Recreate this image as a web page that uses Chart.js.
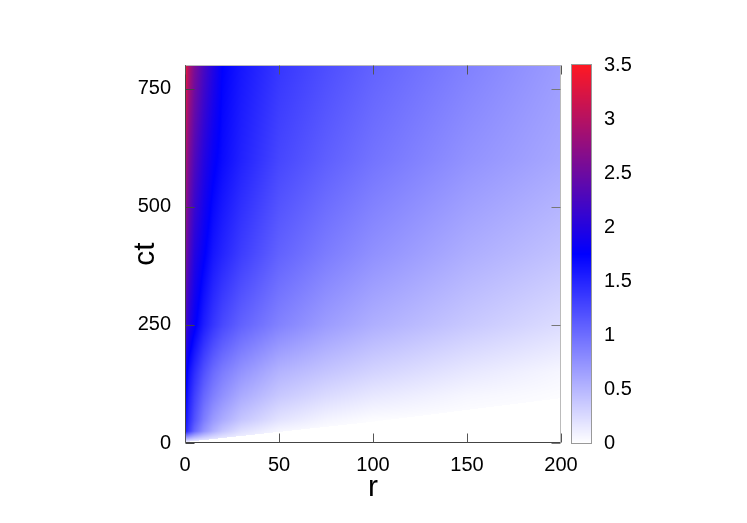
<!DOCTYPE html>
<html>
<head>
<meta charset="utf-8">
<script src="https://cdn.jsdelivr.net/npm/chart.js@4/dist/chart.umd.min.js"></script>
<style>
  html, body { margin: 0; padding: 0; background: #fff; }
  #wrap { width: 747px; height: 523px; }
</style>
</head>
<body>
<div id="wrap"><canvas id="heat" width="747" height="523"></canvas></div>
<script>
// grid: value at (r, ct)
const rGrid  = [0, 2, 5, 10, 15, 20, 30, 50, 75, 100, 150, 200];
const ctGrid = [0, 25, 50, 100, 150, 250, 400, 600, 800];
const v0   = [0, 0, 0, 0, 0, 0, 0, 0, 0, 0, 0, 0];
const v25  = [1.6, 1.35, 1.05, 0.75, 0.55, 0.4, 0.22, 0.06, 0, 0, 0, 0];
const v50  = [1.7, 1.45, 1.2, 0.9, 0.7, 0.58, 0.4, 0.2, 0.08, 0.02, 0, 0];
const v100 = [1.8, 1.55, 1.32, 1.05, 0.88, 0.76, 0.58, 0.38, 0.25, 0.16, 0.06, 0.02];
const v150 = [1.9, 1.65, 1.45, 1.2, 1.02, 0.9, 0.74, 0.52, 0.4, 0.3, 0.16, 0.06];
const v250 = [2.3, 2.0, 1.8, 1.55, 1.38, 1.25, 1.08, 0.86, 0.68, 0.55, 0.38, 0.24];
const v400 = [2.65, 2.3, 2.0, 1.78, 1.6, 1.5, 1.33, 1.08, 0.9, 0.76, 0.56, 0.42];
const v600 = [3.0, 2.6, 2.3, 2.0, 1.8, 1.68, 1.52, 1.27, 1.1, 0.96, 0.75, 0.6];
const v800 = [3.4, 2.95, 2.6, 2.25, 1.98, 1.75, 1.6, 1.38, 1.22, 1.08, 0.87, 0.68];
const rows = [v0, v25, v50, v100, v150, v250, v400, v600, v800];

// wavefront: white below this line
const frontR  = [0, 100, 200];
const frontCt = [2, 45, 95];

const rTicks  = [0, 50, 100, 150, 200];
const ctTicks = [0, 250, 500, 750];
const cbTicks = [0, 0.5, 1, 1.5, 2, 2.5, 3, 3.5];

const FONT = "'Liberation Sans', Arial, sans-serif";

function seg(arr, v) {
  let i = 0;
  while (i < arr.length - 2 && v > arr[i + 1]) i++;
  const t = Math.max(0, Math.min(1, (v - arr[i]) / (arr[i + 1] - arr[i])));
  return [i, t];
}

function valueAt(r, ct) {
  const [fi, ft] = seg(frontR, r);
  const front = frontCt[fi] + (frontCt[fi + 1] - frontCt[fi]) * ft;
  if (ct < front) return 0;
  const [i, tx] = seg(rGrid, r);
  const [j, ty] = seg(ctGrid, ct);
  const a = rows[j][i] * (1 - tx) + rows[j][i + 1] * tx;
  const b = rows[j + 1][i] * (1 - tx) + rows[j + 1][i + 1] * tx;
  return a * (1 - ty) + b * ty;
}

// white -> blue -> red
function palette(v) {
  const mid = 1.75, top = 3.5;
  if (v <= mid) {
    const t = Math.max(0, v) / mid;
    return [255 * (1 - t), 255 * (1 - t), 255];
  }
  const s = Math.min(1, (v - mid) / (top - mid));
  return [255 * s, 25 * s, 255 * (1 - s) + 35 * s];
}

const heatPlugin = {
  id: "heat",
  beforeDatasetsDraw(chart) {
    const { ctx, chartArea: a, scales } = chart;
    const w = Math.round(a.right - a.left), h = Math.round(a.bottom - a.top);
    const img = ctx.createImageData(w, h);
    for (let py = 0; py < h; py++) {
      const ct = scales.y.getValueForPixel(a.top + py + 0.5);
      for (let px = 0; px < w; px++) {
        const r = scales.x.getValueForPixel(a.left + px + 0.5);
        const c = palette(valueAt(r, ct));
        const k = (py * w + px) * 4;
        img.data[k] = c[0]; img.data[k + 1] = c[1]; img.data[k + 2] = c[2]; img.data[k + 3] = 255;
      }
    }
    ctx.putImageData(img, Math.round(a.left), Math.round(a.top));

    // colour box
    const cb = scales.cb;
    const x0 = a.right + 11, bw = 19;
    for (let py = Math.round(a.top); py < Math.round(a.bottom); py++) {
      const c = palette(cb.getValueForPixel(py + 0.5));
      ctx.fillStyle = `rgb(${c[0] | 0},${c[1] | 0},${c[2] | 0})`;
      ctx.fillRect(x0, py, bw, 1);
    }
    ctx.strokeStyle = "#999";
    ctx.lineWidth = 1;
    ctx.strokeRect(x0 - 0.5, Math.round(a.top) - 0.5, bw + 1, Math.round(a.bottom - a.top) + 1);
  },
  afterDraw(chart) {
    const { ctx, chartArea: a, scales } = chart;
    const L = Math.round(a.left) + 0.5, R = Math.round(a.right) - 0.5;
    const T = Math.round(a.top) + 0.5, B = Math.round(a.bottom) - 0.5;
    ctx.save();
    ctx.lineWidth = 1;
    ctx.strokeStyle = "#bbb";
    ctx.beginPath(); ctx.moveTo(L, T); ctx.lineTo(R, T); ctx.lineTo(R, B); ctx.stroke();
    ctx.strokeStyle = "#444";
    ctx.beginPath(); ctx.moveTo(L, T); ctx.lineTo(L, B); ctx.lineTo(R, B); ctx.stroke();
    const len = 9;
    scales.x.ticks.forEach(t => {
      const px = Math.round(scales.x.getPixelForValue(t.value)) + 0.5;
      ctx.strokeStyle = "#555";
      ctx.beginPath(); ctx.moveTo(px, B); ctx.lineTo(px, B - len); ctx.stroke();
      ctx.beginPath(); ctx.moveTo(px, T); ctx.lineTo(px, T + len); ctx.stroke();
    });
    scales.y.ticks.forEach(t => {
      const py = Math.round(scales.y.getPixelForValue(t.value)) + 0.5;
      ctx.strokeStyle = "#444";
      ctx.beginPath(); ctx.moveTo(L, py); ctx.lineTo(L + len, py); ctx.stroke();
      ctx.strokeStyle = "#777";
      ctx.beginPath(); ctx.moveTo(R, py); ctx.lineTo(R - len, py); ctx.stroke();
    });
    ctx.restore();
  }
};

const tickFont = { family: FONT, size: 20 };
const noGrid = { display: false, drawTicks: false };

new Chart(document.getElementById("heat"), {
  type: "scatter",
  data: { datasets: [] },
  options: {
    responsive: false,
    animation: false,
    layout: { padding: { left: 128, right: 86, top: 65, bottom: 17 } },
    plugins: { legend: { display: false }, tooltip: { enabled: false } },
    scales: {
      x: {
        type: "linear", min: 0, max: 200,
        grid: noGrid, border: { display: false },
        afterBuildTicks: s => { s.ticks = rTicks.map(v => ({ value: v })); },
        afterFit: s => { s.height = 63; },
        ticks: { font: tickFont, color: "#000", padding: 10, maxRotation: 0 },
        title: { display: true, text: "r", font: { family: FONT, size: 30 }, color: "#000", padding: 0 }
      },
      y: {
        type: "linear", min: 0, max: 800,
        grid: noGrid, border: { display: false },
        afterBuildTicks: s => { s.ticks = ctTicks.map(v => ({ value: v })); },
        afterFit: s => { s.width = 57; },
        ticks: { font: tickFont, color: "#000", padding: 14 },
        title: { display: true, text: "ct", font: { family: FONT, size: 30 }, color: "#000", padding: 0 }
      },
      cb: {
        type: "linear", position: "right", min: 0, max: 3.5,
        grid: noGrid, border: { display: false },
        afterBuildTicks: s => { s.ticks = cbTicks.map(v => ({ value: v })); },
        afterFit: s => { s.width = 100; },
        ticks: { font: tickFont, color: "#000", padding: 43, callback: v => String(v) }
      }
    }
  },
  plugins: [heatPlugin]
});
</script>
</body>
</html>
